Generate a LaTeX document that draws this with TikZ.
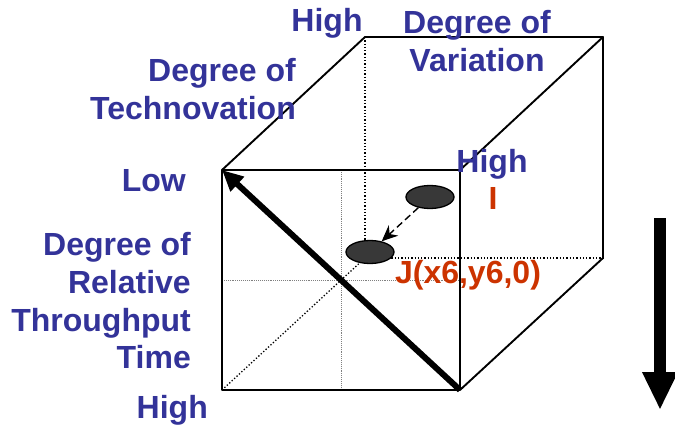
\documentclass[tikz,border=0pt]{standalone}
\usepackage{fontspec}
\setmainfont{Liberation Sans}
\usetikzlibrary{arrows.meta,shapes.geometric}
\definecolor{lblue}{HTML}{333399}
\definecolor{lred}{HTML}{CC3300}
\begin{document}
\begin{tikzpicture}[x=1pt,y=-1pt,
  lab/.style={font=\fontsize{32}{38}\selectfont\bfseries, text=lblue, inner sep=0pt},
  rlab/.style={lab, text=lred},
  edge/.style={line width=1.9pt, line join=round},
  hidden/.style={dotted, line width=1.3pt},
  grid/.style={densely dotted, line width=0.9pt, draw=gray},
  blob/.style={ellipse, draw=black, line width=1.3pt, fill=black!78, minimum width=48pt, minimum height=23pt, inner sep=0pt}]
\useasboundingbox (0,0) rectangle (675,425);
% cube corners
\coordinate (A) at (222,170);
\coordinate (B) at (460,170);
\coordinate (C) at (460,390);
\coordinate (D) at (222,390);
\coordinate (E) at (365,37);
\coordinate (F) at (603,37);
\coordinate (G) at (603,258);
\coordinate (H) at (365,258);
\coordinate (gv1) at (341,170);
\coordinate (gv2) at (341,390);
\coordinate (gh1) at (222,280);
\coordinate (gh2) at (460,280);
% grid lines in front face
\draw[grid] (gv1) -- (gv2);
\draw[grid] (gh1) -- (gh2);
% hidden edges
\draw[hidden] (E) -- (H);
\draw[hidden] (H) -- (G);
\draw[hidden] (D) -- (H);
% visible edges
\draw[edge] (A) -- (B) -- (C) -- (D) -- cycle;
\draw[edge] (A) -- (E) -- (F) -- (B);
\draw[edge] (F) -- (G) -- (C);
% points
\node[blob] (I) at (430,197) {};
\node[blob] (J) at (370,252) {};
\draw[line width=1.4pt, dash pattern=on 7pt off 4pt, -{Stealth[length=16pt,width=14pt]}] (I) -- (J);
% main diagonal arrow
\draw[line width=6pt, -{Triangle[length=21pt,width=19pt]}] (C) -- (A);
% big down arrow
\coordinate (dtop) at (660,218);
\coordinate (dbot) at (660,410);
\draw[line width=12pt, -{Triangle[length=38pt,width=33pt]}] (dtop) -- (dbot);
% labels
\node[lab, anchor=base] (hightop) at (327,32) {High};
\node[lab, anchor=base] (dv1) at (477,34) {Degree of};
\node[lab, anchor=base] (dv2) at (477,72) {Variation};
\node[lab, anchor=base east] (dt1) at (296,82) {Degree of};
\node[lab, anchor=base east] (dt2) at (296,120) {Technovation};
\node[lab, anchor=base east] (low) at (186,191) {Low};
\node[lab, anchor=base] (highr) at (492,172) {High};
\node[rlab, anchor=base] (Ilab) at (493,210) {I};
\node[rlab, anchor=base] (Jlab) at (468,283) {J(x6,y6,0)};
\node[lab, anchor=base east] (r1) at (191,255) {Degree of};
\node[lab, anchor=base east] (r2) at (191,293) {Relative};
\node[lab, anchor=base east] (r3) at (191,331) {Throughput};
\node[lab, anchor=base east] (r4) at (191,368) {Time};
\node[lab, anchor=base east] (highb) at (208,418) {High};
\end{tikzpicture}
\end{document}
